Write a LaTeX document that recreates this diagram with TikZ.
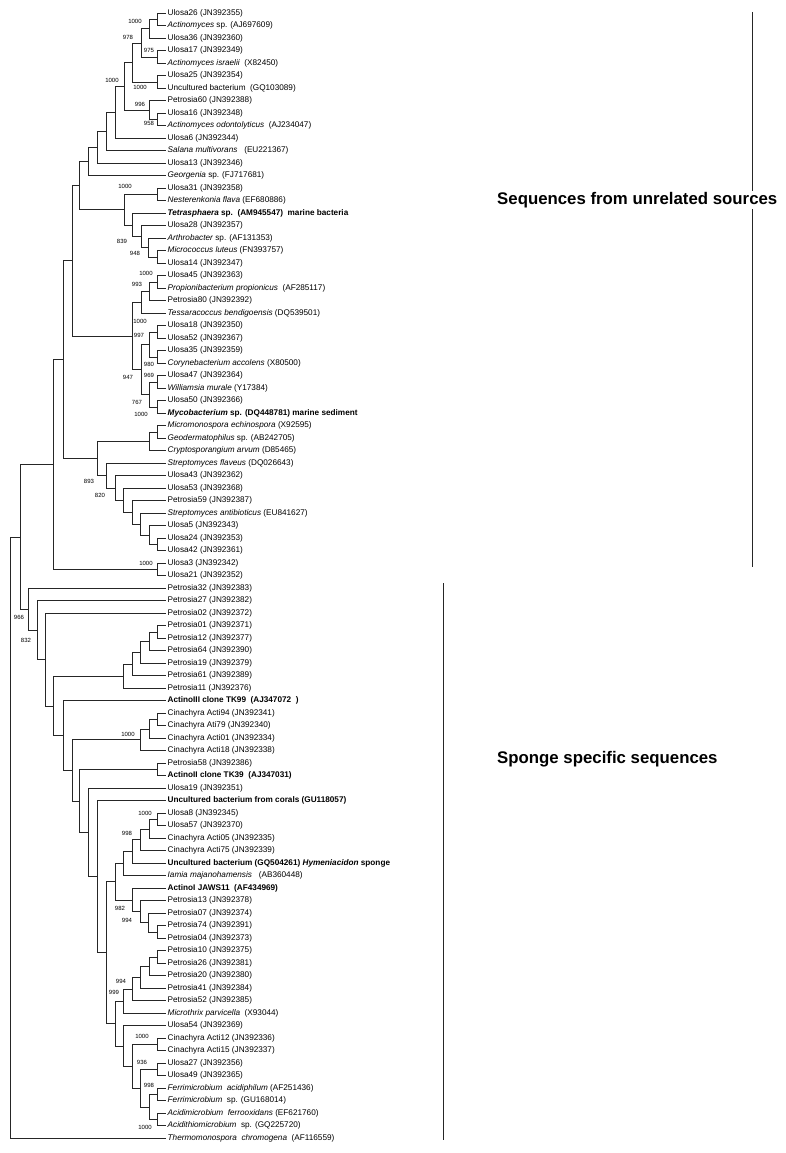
\documentclass[tikz,border=0pt]{standalone}
\usepackage{fontspec}
\setmainfont{Liberation Sans}
\tikzset{
  leaf/.style={anchor=west, inner sep=1.5pt, font=\fontsize{8.2}{9}\selectfont, text height=6pt, text depth=1.7pt},
  boot/.style={inner sep=0pt, font=\fontsize{6}{7}\selectfont},
  group/.style={anchor=west, inner sep=1pt, fill=white, font=\fontsize{16.8}{19}\selectfont\bfseries},
  branch/.style={line width=0.8pt, black!85},
}
\begin{document}
\begin{tikzpicture}[x=1pt, y=-1pt]
  \useasboundingbox (0,0) rectangle (786,1153);

  % === Foglie ===
  \foreach \lab [count=\i] in {
    Ulosa26 (JN392355),
    \textit{Actinomyces} sp. (AJ697609),
    Ulosa36 (JN392360),
    Ulosa17 (JN392349),
    \textit{Actinomyces israelii}~~(X82450),
    Ulosa25 (JN392354),
    Uncultured bacterium~~(GQ103089),
    Petrosia60 (JN392388),
    Ulosa16 (JN392348),
    \textit{Actinomyces odontolyticus}~~(AJ234047),
    Ulosa6 (JN392344),
    \textit{Salana multivorans}~~~(EU221367),
    Ulosa13 (JN392346),
    \textit{Georgenia} sp. (FJ717681),
    Ulosa31 (JN392358),
    \textit{Nesterenkonia flava} (EF680886),
    \textbf{\textit{Tetrasphaera} sp.~~(AM945547)~~marine bacteria},
    Ulosa28 (JN392357),
    \textit{Arthrobacter} sp. (AF131353),
    \textit{Micrococcus luteus} (FN393757),
    Ulosa14 (JN392347),
    Ulosa45 (JN392363),
    \textit{Propionibacterium propionicus}~~(AF285117),
    Petrosia80 (JN392392),
    \textit{Tessaracoccus bendigoensis} (DQ539501),
    Ulosa18 (JN392350),
    Ulosa52 (JN392367),
    Ulosa35 (JN392359),
    \textit{Corynebacterium accolens} (X80500),
    Ulosa47 (JN392364),
    \textit{Williamsia murale} (Y17384),
    Ulosa50 (JN392366),
    \textbf{\textit{Mycobacterium} sp. (DQ448781) marine sediment},
    \textit{Micromonospora echinospora} (X92595),
    \textit{Geodermatophilus} sp. (AB242705),
    \textit{Cryptosporangium arvum} (D85465),
    \textit{Streptomyces flaveus} (DQ026643),
    Ulosa43 (JN392362),
    Ulosa53 (JN392368),
    Petrosia59 (JN392387),
    \textit{Streptomyces antibioticus} (EU841627),
    Ulosa5 (JN392343),
    Ulosa24 (JN392353),
    Ulosa42 (JN392361),
    Ulosa3 (JN392342),
    Ulosa21 (JN392352),
    Petrosia32 (JN392383),
    Petrosia27 (JN392382),
    Petrosia02 (JN392372),
    Petrosia01 (JN392371),
    Petrosia12 (JN392377),
    Petrosia64 (JN392390),
    Petrosia19 (JN392379),
    Petrosia61 (JN392389),
    Petrosia11 (JN392376),
    \textbf{ActinoIII clone TK99~~(AJ347072~~)},
    Cinachyra Acti94 (JN392341),
    Cinachyra Ati79 (JN392340),
    Cinachyra Acti01 (JN392334),
    Cinachyra Acti18 (JN392338),
    Petrosia58 (JN392386),
    \textbf{ActinoII clone TK39~~(AJ347031)},
    Ulosa19 (JN392351),
    \textbf{Uncultured bacterium from corals (GU118057)},
    Ulosa8 (JN392345),
    Ulosa57 (JN392370),
    Cinachyra Acti05 (JN392335),
    Cinachyra Acti75 (JN392339),
    \textbf{Uncultured bacterium (GQ504261) \textit{Hymeniacidon} sponge},
    \textit{Iamia majanohamensis}~~~(AB360448),
    \textbf{ActinoI JAWS11~~(AF434969)},
    Petrosia13 (JN392378),
    Petrosia07 (JN392374),
    Petrosia74 (JN392391),
    Petrosia04 (JN392373),
    Petrosia10 (JN392375),
    Petrosia26 (JN392381),
    Petrosia20 (JN392380),
    Petrosia41 (JN392384),
    Petrosia52 (JN392385),
    \textit{Microthrix parvicella}~~(X93044),
    Ulosa54 (JN392369),
    Cinachyra Acti12 (JN392336),
    Cinachyra Acti15 (JN392337),
    Ulosa27 (JN392356),
    Ulosa49 (JN392365),
    \textit{Ferrimicrobium~~acidiphilum} (AF251436),
    \textit{Ferrimicrobium}~~sp. (GU168014),
    \textit{Acidimicrobium~~ferrooxidans} (EF621760),
    \textit{Acidithiomicrobium}~~sp. (GQ225720),
    \textit{Thermomonospora~~chromogena}~~(AF116559)}
    \node[leaf] (L\i) at (166, {0.8+12.5*\i}) {\lab};

  % === Nodi interni: clade superiore ===
  \coordinate (a1) at (157, 19.55);
  \coordinate (a2) at (149, 28.9);
  \coordinate (a3) at (157, 57.05);
  \coordinate (a4) at (141, 43.0);
  \coordinate (a5) at (157, 82.05);
  \coordinate (a6) at (132, 62.5);
  \coordinate (a7) at (157, 119.55);
  \coordinate (a8) at (149, 110.2);
  \coordinate (a9) at (124, 86.35);
  \coordinate (a10) at (115, 112.3);
  \coordinate (a11) at (106, 131.55);
  \coordinate (a12) at (97, 147.4);
  \coordinate (a13) at (88, 161.6);
  \coordinate (b1) at (157, 194.55);
  \coordinate (b2) at (157, 257.05);
  \coordinate (b3) at (148, 247.7);
  \coordinate (b4) at (141, 236.75);
  \coordinate (b5) at (132, 225.0);
  \coordinate (b6) at (124, 209.8);
  \coordinate (a14) at (79, 185.7);
  \coordinate (c1) at (157, 282.05);
  \coordinate (c2) at (149, 291.4);
  \coordinate (c3) at (141, 302.35);
  \coordinate (c4) at (157, 332.05);
  \coordinate (c5) at (157, 357.05);
  \coordinate (c6) at (149, 344.55);
  \coordinate (c7) at (157, 382.05);
  \coordinate (c8) at (157, 407.05);
  \coordinate (c9) at (149, 394.55);
  \coordinate (c10) at (141, 369.55);
  \coordinate (c11) at (132, 335.95);
  \coordinate (a15) at (72, 260.8);
  \coordinate (d1) at (157, 432.05);
  \coordinate (d2) at (149, 441.4);
  \coordinate (d3) at (157, 544.55);
  \coordinate (d4) at (149, 535.2);
  \coordinate (d5) at (140, 524.25);
  \coordinate (d6) at (132, 512.5);
  \coordinate (d7) at (123, 500.4);
  \coordinate (d8) at (115, 488.1);
  \coordinate (d9) at (106, 475.7);
  \coordinate (d10) at (97, 458.55);
  \coordinate (a16) at (63, 359.7);
  \coordinate (e1) at (157, 569.55);
  \coordinate (a17) at (53, 464.6);

  % === Nodi interni: clade inferiore ===
  \coordinate (f1) at (157, 632.05);
  \coordinate (f2) at (149, 641.4);
  \coordinate (f3) at (140, 652.35);
  \coordinate (f4) at (132, 664.1);
  \coordinate (f5) at (123, 676.2);
  \coordinate (g1) at (157, 719.55);
  \coordinate (g2) at (149, 728.9);
  \coordinate (g3) at (140, 739.85);
  \coordinate (h1) at (157, 769.55);
  \coordinate (i1) at (157, 819.55);
  \coordinate (i2) at (149, 828.9);
  \coordinate (i3) at (140, 839.85);
  \coordinate (i4) at (132, 851.6);
  \coordinate (i5) at (123, 863.7);
  \coordinate (j1) at (157, 932.05);
  \coordinate (j2) at (148, 922.7);
  \coordinate (j3) at (140, 911.75);
  \coordinate (j4) at (132, 900.0);
  \coordinate (i6) at (115, 881.85);
  \coordinate (k1) at (157, 957.05);
  \coordinate (k2) at (149, 966.4);
  \coordinate (k3) at (140, 977.35);
  \coordinate (k4) at (132, 989.1);
  \coordinate (k5) at (123, 1001.2);
  \coordinate (m1) at (157, 1044.55);
  \coordinate (m2) at (157, 1069.55);
  \coordinate (m3) at (157, 1094.55);
  \coordinate (m4) at (157, 1119.55);
  \coordinate (m5) at (149, 1107.05);
  \coordinate (m6) at (140, 1088.3);
  \coordinate (m7) at (132, 1066.4);
  \coordinate (m8) at (123, 1046.1);
  \coordinate (k6) at (115, 1023.65);
  \coordinate (i7) at (106, 952.75);
  \coordinate (i8) at (97, 876.8);
  \coordinate (i9) at (88, 832.55);
  \coordinate (h2) at (79, 801.05);
  \coordinate (g4) at (72, 770.45);
  \coordinate (g5) at (63, 735.6);
  \coordinate (f6) at (53, 705.9);
  \coordinate (p1) at (45, 659.6);
  \coordinate (p2) at (37, 630.2);
  \coordinate (p3) at (28, 609.25);
  \coordinate (r1) at (20, 536.9);
  \coordinate (r0) at (10, 837.6);

  % === Rami ===
  \draw[branch] (a1) |- (L1.west) (a1) |- (L2.west);
  \draw[branch] (a2) |- (a1) (a2) |- (L3.west);
  \draw[branch] (a3) |- (L4.west) (a3) |- (L5.west);
  \draw[branch] (a4) |- (a2) (a4) |- (a3);
  \draw[branch] (a5) |- (L6.west) (a5) |- (L7.west);
  \draw[branch] (a6) |- (a4) (a6) |- (a5);
  \draw[branch] (a7) |- (L9.west) (a7) |- (L10.west);
  \draw[branch] (a8) |- (L8.west) (a8) |- (a7);
  \draw[branch] (a9) |- (a6) (a9) |- (a8);
  \draw[branch] (a10) |- (a9) (a10) |- (L11.west);
  \draw[branch] (a11) |- (a10) (a11) |- (L12.west);
  \draw[branch] (a12) |- (a11) (a12) |- (L13.west);
  \draw[branch] (a13) |- (a12) (a13) |- (L14.west);
  \draw[branch] (b1) |- (L15.west) (b1) |- (L16.west);
  \draw[branch] (b2) |- (L20.west) (b2) |- (L21.west);
  \draw[branch] (b3) |- (L19.west) (b3) |- (b2);
  \draw[branch] (b4) |- (L18.west) (b4) |- (b3);
  \draw[branch] (b5) |- (L17.west) (b5) |- (b4);
  \draw[branch] (b6) |- (b1) (b6) |- (b5);
  \draw[branch] (a14) |- (a13) (a14) |- (b6);
  \draw[branch] (c1) |- (L22.west) (c1) |- (L23.west);
  \draw[branch] (c2) |- (c1) (c2) |- (L24.west);
  \draw[branch] (c3) |- (c2) (c3) |- (L25.west);
  \draw[branch] (c4) |- (L26.west) (c4) |- (L27.west);
  \draw[branch] (c5) |- (L28.west) (c5) |- (L29.west);
  \draw[branch] (c6) |- (c4) (c6) |- (c5);
  \draw[branch] (c7) |- (L30.west) (c7) |- (L31.west);
  \draw[branch] (c8) |- (L32.west) (c8) |- (L33.west);
  \draw[branch] (c9) |- (c7) (c9) |- (c8);
  \draw[branch] (c10) |- (c6) (c10) |- (c9);
  \draw[branch] (c11) |- (c3) (c11) |- (c10);
  \draw[branch] (a15) |- (a14) (a15) |- (c11);
  \draw[branch] (d1) |- (L34.west) (d1) |- (L35.west);
  \draw[branch] (d2) |- (d1) (d2) |- (L36.west);
  \draw[branch] (d3) |- (L43.west) (d3) |- (L44.west);
  \draw[branch] (d4) |- (L42.west) (d4) |- (d3);
  \draw[branch] (d5) |- (L41.west) (d5) |- (d4);
  \draw[branch] (d6) |- (L40.west) (d6) |- (d5);
  \draw[branch] (d7) |- (L39.west) (d7) |- (d6);
  \draw[branch] (d8) |- (L38.west) (d8) |- (d7);
  \draw[branch] (d9) |- (L37.west) (d9) |- (d8);
  \draw[branch] (d10) |- (d2) (d10) |- (d9);
  \draw[branch] (a16) |- (a15) (a16) |- (d10);
  \draw[branch] (e1) |- (L45.west) (e1) |- (L46.west);
  \draw[branch] (a17) |- (a16) (a17) |- (e1);

  \draw[branch] (f1) |- (L50.west) (f1) |- (L51.west);
  \draw[branch] (f2) |- (f1) (f2) |- (L52.west);
  \draw[branch] (f3) |- (f2) (f3) |- (L53.west);
  \draw[branch] (f4) |- (f3) (f4) |- (L54.west);
  \draw[branch] (f5) |- (f4) (f5) |- (L55.west);
  \draw[branch] (g1) |- (L57.west) (g1) |- (L58.west);
  \draw[branch] (g2) |- (g1) (g2) |- (L59.west);
  \draw[branch] (g3) |- (g2) (g3) |- (L60.west);
  \draw[branch] (h1) |- (L61.west) (h1) |- (L62.west);
  \draw[branch] (i1) |- (L65.west) (i1) |- (L66.west);
  \draw[branch] (i2) |- (i1) (i2) |- (L67.west);
  \draw[branch] (i3) |- (i2) (i3) |- (L68.west);
  \draw[branch] (i4) |- (i3) (i4) |- (L69.west);
  \draw[branch] (i5) |- (i4) (i5) |- (L70.west);
  \draw[branch] (j1) |- (L74.west) (j1) |- (L75.west);
  \draw[branch] (j2) |- (L73.west) (j2) |- (j1);
  \draw[branch] (j3) |- (L72.west) (j3) |- (j2);
  \draw[branch] (j4) |- (L71.west) (j4) |- (j3);
  \draw[branch] (i6) |- (i5) (i6) |- (j4);
  \draw[branch] (k1) |- (L76.west) (k1) |- (L77.west);
  \draw[branch] (k2) |- (k1) (k2) |- (L78.west);
  \draw[branch] (k3) |- (k2) (k3) |- (L79.west);
  \draw[branch] (k4) |- (k3) (k4) |- (L80.west);
  \draw[branch] (k5) |- (k4) (k5) |- (L81.west);
  \draw[branch] (m1) |- (L83.west) (m1) |- (L84.west);
  \draw[branch] (m2) |- (L85.west) (m2) |- (L86.west);
  \draw[branch] (m3) |- (L87.west) (m3) |- (L88.west);
  \draw[branch] (m4) |- (L89.west) (m4) |- (L90.west);
  \draw[branch] (m5) |- (m3) (m5) |- (m4);
  \draw[branch] (m6) |- (m2) (m6) |- (m5);
  \draw[branch] (m7) |- (m1) (m7) |- (m6);
  \draw[branch] (m8) |- (L82.west) (m8) |- (m7);
  \draw[branch] (k6) |- (k5) (k6) |- (m8);
  \draw[branch] (i7) |- (i6) (i7) |- (k6);
  \draw[branch] (i8) |- (L64.west) (i8) |- (i7);
  \draw[branch] (i9) |- (L63.west) (i9) |- (i8);
  \draw[branch] (h2) |- (h1) (h2) |- (i9);
  \draw[branch] (g4) |- (g3) (g4) |- (h2);
  \draw[branch] (g5) |- (L56.west) (g5) |- (g4);
  \draw[branch] (f6) |- (f5) (f6) |- (g5);
  \draw[branch] (p1) |- (L49.west) (p1) |- (f6);
  \draw[branch] (p2) |- (L48.west) (p2) |- (p1);
  \draw[branch] (p3) |- (L47.west) (p3) |- (p2);
  \draw[branch] (r1) |- (a17) (r1) |- (p3);
  \draw[branch] (r0) |- (r1) (r0) |- (L91.west);

  % === Bootstrap ===
  \node[boot] (bs1) at (135, 21.7) {1000};
  \node[boot] (bs2) at (128, 37.7) {978};
  \node[boot] (bs3) at (149, 50.7) {975};
  \node[boot] (bs4) at (112, 80) {1000};
  \node[boot] (bs5) at (140, 87.3) {1000};
  \node[boot] (bs6) at (140, 104.3) {996};
  \node[boot] (bs7) at (149, 123.7) {958};
  \node[boot] (bs8) at (125, 186) {1000};
  \node[boot] (bs9) at (122, 241) {839};
  \node[boot] (bs10) at (135, 253) {948};
  \node[boot] (bs11) at (146, 273.7) {1000};
  \node[boot] (bs12) at (137, 284.7) {993};
  \node[boot] (bs13) at (140, 321.3) {1000};
  \node[boot] (bs14) at (139, 335.3) {997};
  \node[boot] (bs15) at (149, 364) {980};
  \node[boot] (bs16) at (128, 377.3) {947};
  \node[boot] (bs17) at (149, 375.3) {969};
  \node[boot] (bs18) at (137, 402.3) {767};
  \node[boot] (bs19) at (141, 414) {1000};
  \node[boot] (bs20) at (89, 481.7) {893};
  \node[boot] (bs21) at (100, 495) {820};
  \node[boot] (bs22) at (146, 563.3) {1000};
  \node[boot] (bs23) at (19, 617.7) {966};
  \node[boot] (bs24) at (26, 640) {832};
  \node[boot] (bs25) at (128, 734.7) {1000};
  \node[boot] (bs26) at (145, 813) {1000};
  \node[boot] (bs27) at (127, 833) {998};
  \node[boot] (bs28) at (120, 908.3) {982};
  \node[boot] (bs29) at (127, 920.7) {994};
  \node[boot] (bs30) at (121, 981) {994};
  \node[boot] (bs31) at (114, 992.7) {999};
  \node[boot] (bs32) at (142, 1036) {1000};
  \node[boot] (bs33) at (142, 1062) {936};
  \node[boot] (bs34) at (149, 1085.3) {998};
  \node[boot] (bs35) at (145, 1127) {1000};

  % === Gruppi ===
  \coordinate (src top) at (752, 12);
  \coordinate (src bot) at (752, 567);
  \draw[branch] (src top) -- (src bot);
  \node[group] (src) at (496, 200) {Sequences from unrelated sources};

  \coordinate (spg top) at (443, 583);
  \coordinate (spg bot) at (443, 1140);
  \draw[branch] (spg top) -- (spg bot);
  \node[group] (spg) at (496, 759) {Sponge specific sequences};

\end{tikzpicture}
\end{document}
